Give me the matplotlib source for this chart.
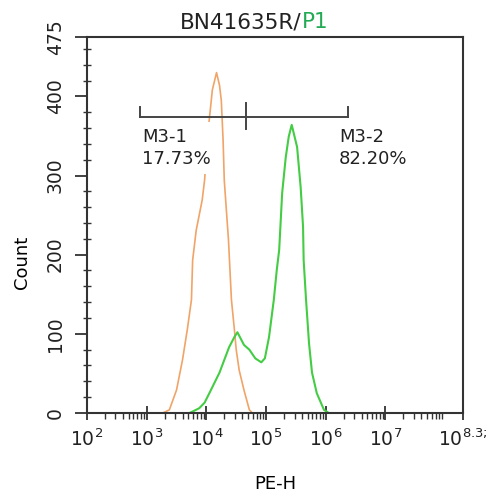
import matplotlib
matplotlib.use("Agg")
import matplotlib.pyplot as plt
from matplotlib.ticker import FixedLocator, LogLocator, NullFormatter, MultipleLocator
import numpy as np

plt.rcParams['font.family'] = ['DejaVu Sans']

# 对照曲线（橙色），横坐标为 log10(PE-H)
ctrl_log = [3.27, 3.38, 3.50, 3.60, 3.68, 3.75, 3.77, 3.83, 3.93, 3.97, 4.03, 4.10, 4.17,
            4.22, 4.25, 4.28, 4.30, 4.37, 4.42, 4.47, 4.50, 4.55, 4.63, 4.72, 4.77]
ctrl_count = [0, 4, 29, 67, 105, 143, 193, 231, 269, 294, 357, 408, 430,
              414, 395, 345, 294, 219, 143, 105, 80, 54, 29, 4, 0]

# 样品曲线（绿色）
samp_log = [3.72, 3.88, 3.97, 4.05, 4.22, 4.38, 4.47, 4.52, 4.63, 4.72, 4.82, 4.92, 4.98,
            5.05, 5.13, 5.18, 5.22, 5.27, 5.33, 5.38, 5.43, 5.52, 5.58, 5.62, 5.63,
            5.67, 5.72, 5.77, 5.85, 5.97, 6.05]
samp_count = [0, 6, 13, 25, 51, 83, 96, 102, 86, 80, 69, 64, 69,
              96, 143, 181, 206, 278, 323, 349, 364, 336, 285, 235, 193,
              143, 88, 51, 25, 4, 0]

# 门控 M3-1 / M3-2
gate_log = [2.88, 4.67, 6.38]
gate_y = 374
gate_names = ['M3-1', 'M3-2']
gate_pct = ['17.73%', '82.20%']
label_log = [2.92, 6.22]

xtick_exp = [2, 3, 4, 5, 6, 7, 8.3]
xtick_labels = ['$10^{2}$', '$10^{3}$', '$10^{4}$', '$10^{5}$', '$10^{6}$', '$10^{7}$', '$10^{8.3;}$']
yticks = [0, 100, 200, 300, 400, 475]

fig = plt.figure(figsize=(4.96, 4.93), dpi=100)
ax = fig.add_axes([0.1754, 0.1623, 0.7581, 0.7627])

ax.plot(10 ** np.array(ctrl_log), ctrl_count, color='#f0a468', lw=1.2, zorder=2)
ax.plot(10 ** np.array(samp_log), samp_count, color='#44cc44', lw=1.5, zorder=2)

# 门控线
gx = 10 ** np.array(gate_log)
ax.plot([gx[0], gx[2]], [gate_y, gate_y], color='#444444', lw=1.4, zorder=5)
ax.plot([gx[0], gx[0]], [gate_y, gate_y + 13], color='#444444', lw=1.4, zorder=5)
ax.plot([gx[2], gx[2]], [gate_y, gate_y + 13], color='#444444', lw=1.4, zorder=5)
ax.plot([gx[1], gx[1]], [gate_y - 15, gate_y + 17], color='#444444', lw=1.4, zorder=5)

for i in range(2):
    txt = ax.text(10 ** label_log[i], gate_y - 14, gate_names[i] + '\n' + gate_pct[i],
                  fontsize=13, color='#222222', ha='left', va='top', linespacing=1.25, zorder=4)
    if i == 0:
        txt.set_bbox(dict(facecolor='white', edgecolor='none', boxstyle='square,pad=0.35'))

ax.set_xscale('log')
ax.set_xlim(10 ** 2, 10 ** 8.3)
ax.set_ylim(0, 475)

ax.xaxis.set_major_locator(FixedLocator([10 ** e for e in xtick_exp]))
ax.set_xticklabels(xtick_labels, fontsize=13.5)
ax.xaxis.set_minor_locator(LogLocator(base=10, subs=np.arange(2, 10)))
ax.xaxis.set_minor_formatter(NullFormatter())

ax.set_yticks(yticks)
ax.set_yticklabels([str(v) for v in yticks], fontsize=13.5, rotation=90, va='center')
ax.yaxis.set_minor_locator(MultipleLocator(20))

ax.tick_params(axis='x', which='major', direction='inout', length=10, width=1.3, pad=6, colors='#333333')
ax.tick_params(axis='x', which='minor', direction='out', length=4, width=1.0, colors='#333333')
ax.tick_params(axis='y', which='major', direction='out', length=9, width=1.3, pad=7, colors='#333333')
ax.tick_params(axis='y', which='minor', direction='inout', length=6, width=1.0, colors='#333333')
for t in ax.get_xticklabels() + ax.get_yticklabels():
    t.set_color('#222222')

for s in ax.spines.values():
    s.set_linewidth(1.5)
    s.set_color('#333333')

ax.set_xlabel('PE-H', fontsize=13)
ax.set_ylabel('Count', fontsize=13)
ax.xaxis.set_label_coords(0.5, -0.166)
ax.yaxis.set_label_coords(-0.15, 0.40)

# 标题：BN41635R/ 黑色, P1 绿色
fig.text(0.607, 0.955, 'BN41635R/', fontsize=15.5, color='#222222', ha='right', va='center')
fig.text(0.609, 0.955, 'P1', fontsize=15.5, color='#22aa55', ha='left', va='center')

fig.savefig('out.png', dpi=100)
